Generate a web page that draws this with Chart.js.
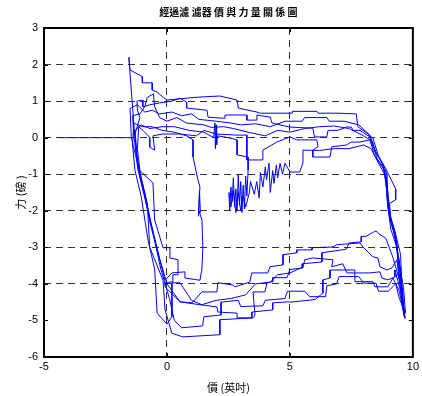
<!DOCTYPE html>
<html><head><meta charset="utf-8">
<script src="https://cdn.jsdelivr.net/npm/chart.js@4/dist/chart.umd.min.js"></script>
<style>html,body{margin:0;padding:0;background:#fff;}</style>
</head><body>
<canvas id="c" width="422" height="396"></canvas>
<script>
const TITLE = '經過濾 濾器 價 與 力 量 關 係 圖';
const X_LABEL = '價 (英吋)';
const Y_LABEL = '力 (磅 )';
const xTicks = [-5, 0, 5, 10];
const yTicks = [-6, -5, -4, -3, -2, -1, 0, 1, 2, 3];

// trace segments: [position (in), force (lb)]
const lead = [[-4.4,0],[-1.3,0]];
const peak = [[-1.35,0.4],[-1.45,1.3],[-1.55,2.2]];
const top1 = [[-1.5,1.85],[-1.0,1.67],[-1.0,1.5],[-0.6,1.5],[-0.6,1.3],[-0.4,1.25],[-0.15,1.1],[0,1.03],[0.8,1.08],[1.3,1.11],[2.15,1.14],[2.85,1.03],[2.9,0.81],[3.66,0.7],[3.8,0.67],[5.1,0.67],[5.1,0.72],[6.1,0.72],[6.15,0.67],[6.95,0.67],[7.7,0.65],[7.76,0.3],[8.05,0.16],[8.25,0.07]];
const right1 = [[8.5,-0.4],[8.8,-0.75],[8.95,-1.0],[9.0,-2.0],[9.25,-2.6],[9.35,-3.1],[9.5,-3.8],[9.65,-4.9]];
const bottom1 = [[9.45,-4.2],[9.19,-3.84],[8.98,-4.08],[8.46,-4.08],[8.37,-3.94],[7.64,-3.94],[7.64,-3.62],[7.15,-3.62],[6.63,-3.62],[6.63,-3.84],[6.34,-3.89],[6.34,-4.25],[6.02,-4.43],[5.0,-4.5],[4.92,-4.49],[4.3,-4.52],[4.3,-4.71],[3.45,-4.77],[3.45,-4.93],[2.85,-4.93],[2.85,-4.8],[2.07,-4.77],[2.03,-4.63],[1.34,-4.57],[0.53,-4.49]];
const left1 = [[0.0,-4.0],[-0.3,-3.3],[-0.55,-2.6],[-0.85,-1.8],[-1.1,-1.1],[-1.25,-0.4],[-1.3,0.1],[-1.1,0.55]];
const top2 = [[-1.2,0.75],[-1.22,1.0],[-1.0,1.03],[-0.98,0.84],[-0.7,0.9],[-0.3,0.95],[0.2,1.0],[0.53,1.08],[0.8,0.97],[0.8,0.81],[1.63,0.75],[1.67,0.56],[2.36,0.53],[2.36,0.62],[3.25,0.62],[3.25,0.48],[3.66,0.48],[3.66,0.62],[4.2,0.56],[4.27,0.4],[5.0,0.29],[5.93,0.26],[6.0,0.02],[6.5,0.02],[6.55,0.2],[6.95,0.2],[7.3,0.29],[7.5,0.29],[7.56,0.2],[7.85,0.2],[8.13,0.07],[8.37,0]];
const right2 = [[8.6,-0.5],[8.9,-0.85],[9.3,-1.4],[9.3,-1.7],[9.05,-1.8],[9.1,-2.3],[9.3,-2.8],[9.45,-3.4],[9.55,-4.2],[9.6,-4.7]];
const bottom2 = [[9.45,-3.9],[9.35,-3.34],[9.15,-3.56],[8.94,-3.62],[8.66,-3.53],[8.58,-3.29],[8.37,-3.26],[7.97,-2.99],[7.85,-2.88],[6.9,-2.93],[6.75,-2.99],[5.9,-3.01],[5.9,-3.07],[5.28,-3.07],[5.28,-3.15],[4.72,-3.2],[4.72,-3.48],[4.19,-3.53],[4.1,-3.7],[3.45,-3.7],[3.37,-3.95],[2.76,-4.08],[2.68,-4.03],[2.07,-3.97],[2.03,-4.22],[1.42,-4.22],[1.02,-4.52],[0.53,-4.49],[-0.08,-4.08],[-0.08,-3.97],[0.24,-3.94],[0.24,-3.75],[0.45,-3.75],[0.45,-3.34],[0.12,-3.29],[0.12,-3.01],[-0.16,-3.01]];
const left2 = [[-0.5,-2.25],[-0.57,-1.24],[-1.1,-0.9],[-1.2,-0.3],[-1.15,0.3]];
const top3 = [[-0.9,0.15],[-0.7,0.0],[-0.7,-0.26],[-0.5,-0.34],[-0.57,0.05],[-0.2,0.1],[0.5,0.1],[1.2,0.05],[1.5,0.2],[2.0,0.1],[2.85,0.07],[3.25,0.07],[3.25,-0.61],[3.9,-0.61],[3.9,-0.34],[4.47,-0.12],[5.0,0.02],[5.28,-0.06],[6.1,-0.06],[6.14,-0.25],[5.93,-0.34],[5.93,-0.53],[6.63,-0.53],[6.7,-0.25],[7.3,-0.2],[7.5,-0.12],[7.85,-0.12],[8.25,-0.06]];
const right3 = [[8.45,-0.5],[8.8,-0.8],[8.9,-1.2],[9.0,-1.9],[9.15,-2.3],[9.35,-2.9],[9.4,-3.5],[9.6,-4.5],[9.67,-4.9]];
const bottom3 = [[9.5,-4.2],[9.27,-3.62],[9.27,-3.81],[8.98,-3.89],[8.74,-3.84],[8.66,-3.67],[8.25,-3.7],[7.85,-3.7],[7.32,-3.7],[7.15,-3.45],[6.7,-3.53],[6.75,-3.34],[5.93,-3.29],[5.6,-3.34],[5.53,-3.56],[5.0,-3.61],[4.88,-3.83],[4.3,-3.83],[4.3,-3.94],[4.07,-3.97],[3.98,-4.22],[3.5,-4.22],[3.58,-4.85],[3.5,-4.93],[2.15,-4.98],[2.15,-5.39],[0.65,-5.45],[0.2,-5.35]];
const left3 = [[-0.08,-4.7],[-0.16,-3.9],[-0.7,-3.0],[-0.8,-1.8],[-1.18,-0.88],[-1.35,0.1],[-1.4,0.6]];
const top4 = [[-1.1,0.65],[-0.9,0.85],[-0.8,1.1],[-0.55,1.2],[-0.5,0.85],[-0.3,0.55],[0,0.45],[0.4,0.55],[0.8,0.4],[1.5,0.35],[1.8,0.28],[2.3,0.3],[2.7,0.25],[3.3,0.15],[4.0,0.05],[4.5,0.2],[5.0,0.15],[5.6,0.25],[6.2,0.3],[6.8,0.32],[7.4,0.25],[8.0,0.05],[8.35,-0.1]];
const right4 = [[8.55,-0.6],[8.9,-0.95],[9.0,-1.6],[9.1,-2.2],[9.25,-2.5],[9.5,-3.2],[9.55,-4.0],[9.68,-4.95]];
const bottom4 = [[9.45,-3.9],[9.2,-3.3],[8.9,-2.75],[8.66,-2.65],[8.5,-2.55],[8.35,-2.6],[8.1,-2.7],[7.9,-2.7],[7.9,-2.85],[7.4,-2.88],[7.3,-3.05],[6.8,-3.1],[6.3,-3.15],[6.3,-3.4],[5.5,-3.45],[5.5,-3.55],[5.0,-3.7],[4.5,-3.75],[4.2,-3.95],[3.6,-4.0],[3.2,-4.3],[2.6,-4.4],[2.0,-4.45],[1.42,-4.57],[1.0,-4.45],[0.53,-3.97],[0.2,-3.97],[0.2,-4.9],[0.0,-5.1]];
const left4 = [[-0.4,-4.8],[-0.5,-3.6],[-0.77,-2.8],[-1.05,-1.6],[-1.3,-0.9],[-1.4,-0.2],[-1.35,0.4]];
const top5 = [[-1.0,0.3],[-0.6,0.3],[-0.2,0.2],[0.3,0.15],[0.8,0.05],[1.06,-0.06],[1.06,-0.53],[1.26,-1.15],[1.34,-1.35],[1.28,-2.15],[1.32,-1.45],[1.36,-2.05],[1.3,-2.0],[1.42,-2.25],[1.46,-3.0],[1.42,-3.6],[1.34,-3.9],[0.73,-3.84],[0.73,-3.67],[0.2,-3.7],[-0.08,-3.9]];
const left5 = [[-0.35,-3.2],[-0.7,-2.3],[-0.95,-1.4],[-1.2,-0.6],[-1.3,0.2]];
const top6 = [[-1.05,0.35],[-0.7,0.25],[-0.2,0.3],[0.3,0.3],[0.9,0.2],[1.5,0.15],[1.9,0.0],[1.95,0.4],[1.97,-0.3],[2.0,0.35],[2.02,-0.2],[2.05,0.05],[2.5,0.0],[2.85,-0.06],[2.85,-0.47],[3.3,-0.53],[3.3,-0.88]];
const noise = [[3.25,-1.6],[3.2,-1.05],[3.15,-1.95],[3.1,-1.3],[3.05,-2.05],[3.0,-1.2],[2.95,-1.85],[2.9,-1.0],[2.85,-2.0],[2.8,-1.4],[2.75,-1.9],[2.7,-1.1],[2.65,-1.75],[2.6,-1.35],[2.55,-2.0],[2.52,-1.5],[2.6,-1.9],[2.7,-1.45],[2.8,-2.05],[2.9,-1.5],[3.0,-2.0],[3.1,-1.6],[3.2,-1.9],[3.35,-1.5],[3.4,-1.2],[3.55,-1.55],[3.65,-1.2],[3.75,-1.65],[3.8,-0.95],[3.9,-1.35],[4.0,-0.8],[4.05,-1.15],[4.15,-0.7],[4.2,-1.5],[4.3,-0.9],[4.35,-1.25],[4.45,-0.75],[4.5,-1.1],[4.6,-0.7],[4.7,-1.0],[4.8,-0.7],[5.0,-0.94],[5.4,-0.94],[5.53,-0.69],[5.53,-0.34],[6.2,-0.35],[6.8,-0.3],[7.4,-0.3],[8.0,-0.2],[8.3,-0.3]];
const right6 = [[8.6,-0.7],[8.85,-1.0],[8.95,-1.5],[9.05,-2.2],[9.3,-2.7],[9.4,-3.3],[9.62,-4.1],[9.7,-4.8]];
const bottom7 = [[9.45,-4.4],[9.3,-4.0],[9.0,-4.2],[8.6,-4.2],[8.5,-3.98],[8.0,-3.98],[7.8,-3.8],[7.0,-3.8],[6.9,-4.0],[6.5,-4.05],[6.45,-4.35],[5.8,-4.35],[5.6,-4.2],[4.9,-4.2],[4.8,-4.4],[4.0,-4.45],[3.9,-4.6],[3.0,-4.62],[2.9,-4.45],[2.2,-4.5],[2.2,-4.85],[1.5,-4.9],[1.45,-5.15],[0.6,-5.2],[0.3,-5.0]];
const left7 = [[0.1,-4.4],[-0.25,-3.6],[-0.6,-2.5],[-0.9,-1.5],[-1.2,-0.7],[-1.45,0.0],[-1.5,0.8]];
const top7 = [[-1.2,0.9],[-0.9,0.7],[-0.6,0.75],[-0.3,0.65],[0.2,0.7],[0.6,0.6],[1.0,0.65],[1.3,0.5],[2.0,0.45],[2.6,0.4],[3.0,0.35],[3.6,0.38],[4.2,0.3],[4.8,0.45],[5.5,0.45],[5.6,0.55],[6.5,0.55],[6.6,0.45],[7.2,0.45],[7.8,0.35],[8.2,0.1]];
const right7 = [[8.4,-0.3],[8.75,-0.7],[8.9,-1.1],[8.95,-1.7],[9.1,-2.5],[9.35,-3.0],[9.5,-3.6],[9.6,-4.4]];

const trace = [].concat(lead, peak, top1, right1, bottom1, left1, top2, right2, bottom2, left2,
  top3, right3, bottom3, left3, top4, right4, bottom4, left4, top5, left5, top6, noise, right6,
  bottom7, left7, top7, right7);

const tickFont = {family: '"Liberation Sans", Arial, sans-serif', size: 11};
const cjkFont = '"Noto Sans CJK TC", "Noto Sans CJK SC", sans-serif';

const frame = {
  id: 'frame',
  afterDraw(chart) {
    const {ctx, chartArea: a, scales} = chart;
    ctx.save();
    ctx.strokeStyle = '#000';
    ctx.lineWidth = 1;
    const tl = 4;
    ctx.beginPath();
    scales.x.ticks.forEach(t => {
      if (t.value === -5 || t.value === 10) return;
      const px = Math.round(scales.x.getPixelForValue(t.value)) + 0.5;
      ctx.moveTo(px, a.bottom); ctx.lineTo(px, a.bottom - tl);
      ctx.moveTo(px, a.top); ctx.lineTo(px, a.top + tl);
    });
    scales.y.ticks.forEach(t => {
      if (t.value === -6 || t.value === 3) return;
      const py = Math.round(scales.y.getPixelForValue(t.value)) + 0.5;
      ctx.moveTo(a.left, py); ctx.lineTo(a.left + tl, py);
      ctx.moveTo(a.right, py); ctx.lineTo(a.right - tl, py);
    });
    ctx.stroke();
    ctx.lineWidth = 2;
    ctx.strokeRect(a.left, a.top, a.right - a.left, a.bottom - a.top);
    ctx.restore();
  }
};

const gridColor = c => (c.tick && (c.tick.value === -5 || c.tick.value === 10 || c.tick.value === -6 || c.tick.value === 3)) ? 'rgba(0,0,0,0)' : '#333';

new Chart(document.getElementById('c'), {
  type: 'scatter',
  data: {datasets: [{
    data: trace.map(p => ({x: p[0], y: p[1]})),
    showLine: true, borderColor: '#0000ff', borderWidth: 1,
    pointRadius: 0, fill: false, tension: 0
  }]},
  options: {
    responsive: false, animation: false, devicePixelRatio: 1,
    layout: {padding: {left: 0, right: 9, top: 0, bottom: 0}},
    plugins: {
      legend: {display: false}, tooltip: {enabled: false},
      title: {display: true, text: TITLE, fullSize: false, color: '#000',
        font: {family: cjkFont, size: 10, weight: 'bold'}, padding: {top: 6, bottom: 10}}
    },
    scales: {
      x: {
        type: 'linear', min: -5, max: 10,
        afterBuildTicks: s => { s.ticks = xTicks.map(v => ({value: v})); },
        afterFit: s => { s.height = 39; },
        ticks: {color: '#000', font: tickFont, padding: 3, maxRotation: 0},
        grid: {color: gridColor, drawTicks: false, lineWidth: 1},
        border: {display: false, dash: [7, 5]},
        title: {display: true, text: X_LABEL, color: '#000', font: {family: cjkFont, size: 11}, padding: {top: 0, bottom: 2}}
      },
      y: {
        type: 'linear', min: -6, max: 3,
        afterBuildTicks: s => { s.ticks = yTicks.map(v => ({value: v})); },
        afterFit: s => { s.width = 44; },
        ticks: {color: '#000', font: tickFont, padding: 6},
        grid: {color: gridColor, drawTicks: false, lineWidth: 1},
        border: {display: false, dash: [7, 5]},
        title: {display: true, text: Y_LABEL, color: '#000', font: {family: cjkFont, size: 11}, padding: {top: 14, bottom: 0}}
      }
    }
  },
  plugins: [frame]
});
</script>
</body></html>
